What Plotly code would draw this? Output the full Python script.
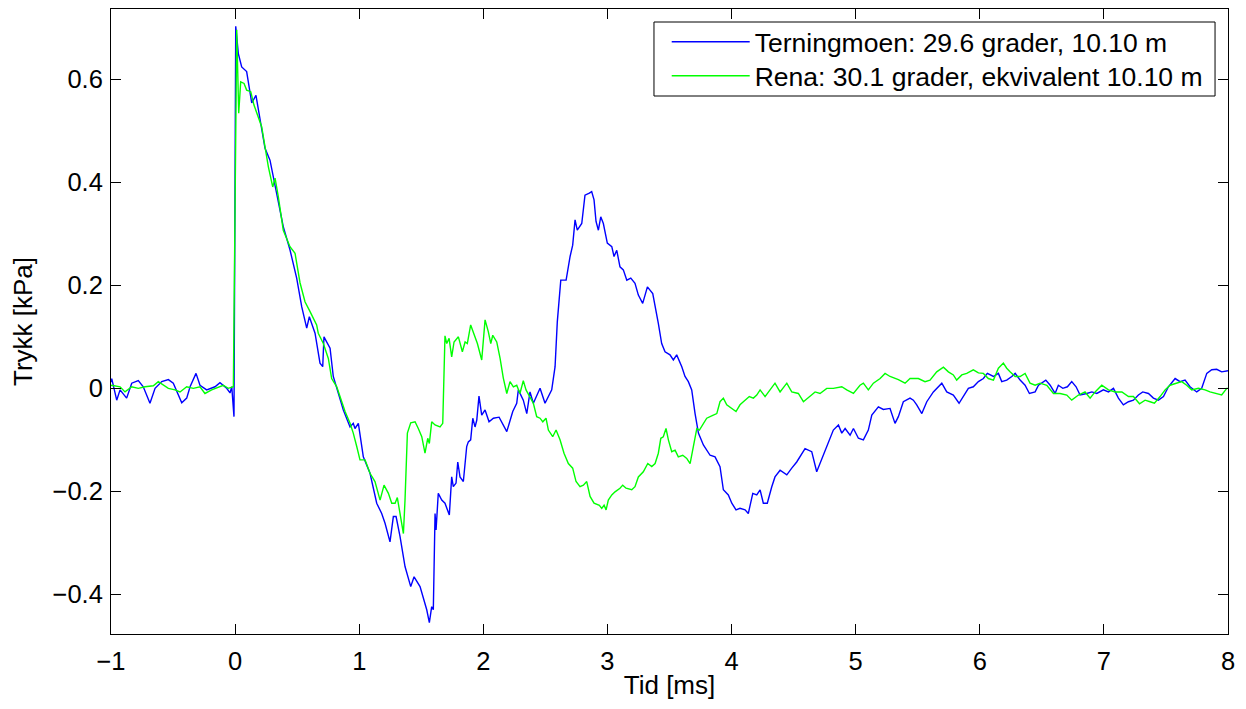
import plotly.graph_objects as go

# ---- Data (time in ms, pressure in kPa) ----
terningmoen_t = [
    -1.000, -0.994, -0.954, -0.927, -0.874, -0.833, -0.780, -0.740, -0.686, -0.645,
    -0.591, -0.538, -0.498, -0.430, -0.390, -0.363, -0.315, -0.283, -0.229, -0.162,
    -0.122, -0.068, -0.041, -0.027, -0.009, 0.005, 0.026, 0.053, 0.093, 0.134,
    0.168, 0.201, 0.241, 0.281, 0.335, 0.388, 0.442, 0.496, 0.537, 0.577,
    0.598, 0.644, 0.684, 0.706, 0.716, 0.765, 0.791, 0.832, 0.872, 0.926,
    0.952, 0.966, 0.993, 1.033, 1.087, 1.141, 1.181, 1.208, 1.248, 1.275,
    1.297, 1.329, 1.369, 1.415, 1.442, 1.490, 1.522, 1.544, 1.565, 1.584,
    1.597, 1.611, 1.619, 1.637, 1.665, 1.691, 1.726, 1.745, 1.758, 1.780,
    1.794, 1.812, 1.839, 1.866, 1.879, 1.898, 1.915, 1.933, 1.947, 1.965,
    1.987, 2.014, 2.046, 2.081, 2.127, 2.189, 2.237, 2.269, 2.282, 2.322,
    2.350, 2.376, 2.403, 2.457, 2.497, 2.551, 2.578, 2.596, 2.624, 2.667,
    2.699, 2.720, 2.739, 2.757, 2.793, 2.819, 2.854, 2.873, 2.892, 2.908,
    2.927, 2.946, 2.967, 2.999, 3.035, 3.053, 3.075, 3.101, 3.128, 3.156,
    3.188, 3.222, 3.249, 3.284, 3.322, 3.365, 3.410, 3.437, 3.464, 3.504,
    3.531, 3.558, 3.599, 3.625, 3.652, 3.679, 3.706, 3.733, 3.773, 3.827,
    3.867, 3.907, 3.934, 3.974, 4.002, 4.036, 4.068, 4.109, 4.135, 4.171,
    4.203, 4.230, 4.256, 4.288, 4.324, 4.350, 4.391, 4.445, 4.485, 4.525,
    4.592, 4.646, 4.686, 4.740, 4.788, 4.820, 4.861, 4.888, 4.915, 4.955,
    4.982, 5.022, 5.062, 5.102, 5.130, 5.183, 5.223, 5.277, 5.317, 5.344,
    5.384, 5.438, 5.465, 5.492, 5.533, 5.573, 5.626, 5.667, 5.694, 5.734,
    5.787, 5.833, 5.868, 5.908, 5.948, 5.989, 6.029, 6.061, 6.110, 6.150,
    6.177, 6.217, 6.258, 6.285, 6.325, 6.365, 6.400, 6.446, 6.473, 6.532,
    6.567, 6.607, 6.633, 6.669, 6.706, 6.741, 6.776, 6.808, 6.862, 6.903,
    6.943, 6.996, 7.037, 7.077, 7.117, 7.157, 7.198, 7.238, 7.278, 7.313,
    7.359, 7.399, 7.439, 7.480, 7.520, 7.574, 7.614, 7.654, 7.694, 7.748,
    7.788, 7.829, 7.869, 7.909, 7.949, 7.990, 8.000,
]
terningmoen_p = [
    0.012, 0.019, -0.023, -0.003, -0.019, 0.010, 0.015, 0.003, -0.029, 0.000,
    0.013, 0.017, 0.010, -0.028, -0.019, 0.003, 0.029, 0.006, -0.003, 0.003,
    0.011, 0.000, -0.009, 0.003, -0.055, 0.703, 0.650, 0.624, 0.615, 0.554,
    0.569, 0.521, 0.466, 0.443, 0.379, 0.314, 0.269, 0.214, 0.158, 0.117,
    0.139, 0.107, 0.049, 0.042, 0.100, 0.078, 0.023, -0.010, -0.042, -0.075,
    -0.068, -0.078, -0.068, -0.133, -0.165, -0.223, -0.243, -0.262, -0.298, -0.249,
    -0.249, -0.288, -0.346, -0.385, -0.366, -0.385, -0.411, -0.430, -0.455, -0.424,
    -0.430, -0.243, -0.275, -0.204, -0.217, -0.223, -0.246, -0.172, -0.191, -0.184,
    -0.143, -0.172, -0.181, -0.113, -0.104, -0.100, -0.058, -0.075, -0.062, -0.015,
    -0.052, -0.042, -0.065, -0.058, -0.056, -0.084, -0.045, -0.029, -0.003, -0.023,
    -0.049, -0.007, -0.029, 0.000, -0.029, -0.003, 0.042, 0.129, 0.210, 0.210,
    0.256, 0.278, 0.327, 0.307, 0.320, 0.375, 0.379, 0.382, 0.366, 0.324,
    0.307, 0.333, 0.320, 0.282, 0.275, 0.256, 0.268, 0.236, 0.230, 0.210,
    0.214, 0.204, 0.181, 0.165, 0.197, 0.184, 0.126, 0.087, 0.071, 0.065,
    0.055, 0.065, 0.042, 0.023, 0.013, -0.003, -0.049, -0.087, -0.110, -0.130,
    -0.133, -0.152, -0.197, -0.207, -0.223, -0.236, -0.233, -0.236, -0.243, -0.204,
    -0.207, -0.197, -0.223, -0.223, -0.191, -0.172, -0.159, -0.168, -0.155, -0.143,
    -0.117, -0.123, -0.162, -0.130, -0.100, -0.081, -0.071, -0.087, -0.078, -0.091,
    -0.078, -0.097, -0.100, -0.081, -0.052, -0.036, -0.041, -0.039, -0.068, -0.055,
    -0.026, -0.019, -0.023, -0.032, -0.049, -0.026, -0.007, 0.003, 0.010, -0.007,
    -0.013, -0.029, -0.016, 0.000, 0.003, 0.013, 0.019, 0.029, 0.023, 0.029,
    0.013, 0.016, 0.023, 0.029, 0.016, 0.006, -0.010, -0.007, 0.006, 0.016,
    0.006, -0.010, 0.006, 0.000, 0.003, 0.013, 0.003, -0.013, -0.010, -0.007,
    -0.010, -0.003, -0.007, 0.000, -0.019, -0.032, -0.026, -0.023, -0.013, -0.007,
    -0.010, -0.019, -0.023, -0.016, 0.003, 0.019, 0.013, 0.016, 0.003, -0.007,
    0.000, 0.029, 0.036, 0.037, 0.032, 0.034, 0.034,
]

rena_t = [
    -1.000, -0.994, -0.927, -0.887, -0.833, -0.780, -0.726, -0.659, -0.619, -0.579,
    -0.538, -0.484, -0.444, -0.390, -0.337, -0.283, -0.243, -0.189, -0.135, -0.095,
    -0.055, -0.014, 0.013, 0.029, 0.045, 0.072, 0.093, 0.126, 0.152, 0.179,
    0.214, 0.241, 0.268, 0.303, 0.322, 0.348, 0.388, 0.442, 0.483, 0.523,
    0.563, 0.604, 0.657, 0.670, 0.711, 0.751, 0.778, 0.819, 0.845, 0.886,
    0.926, 0.952, 0.980, 1.006, 1.047, 1.087, 1.127, 1.168, 1.200, 1.235,
    1.262, 1.289, 1.307, 1.329, 1.356, 1.369, 1.388, 1.415, 1.450, 1.476,
    1.504, 1.530, 1.552, 1.565, 1.584, 1.611, 1.651, 1.673, 1.683, 1.691,
    1.705, 1.724, 1.745, 1.764, 1.799, 1.831, 1.853, 1.871, 1.898, 1.920,
    1.952, 1.987, 2.014, 2.040, 2.060, 2.076, 2.108, 2.135, 2.161, 2.189,
    2.215, 2.242, 2.269, 2.295, 2.322, 2.344, 2.376, 2.403, 2.430, 2.457,
    2.479, 2.505, 2.524, 2.559, 2.586, 2.618, 2.650, 2.685, 2.720, 2.747,
    2.779, 2.806, 2.833, 2.860, 2.892, 2.935, 2.954, 2.973, 2.989, 3.007,
    3.035, 3.061, 3.101, 3.123, 3.150, 3.196, 3.222, 3.249, 3.289, 3.325,
    3.357, 3.384, 3.410, 3.430, 3.450, 3.472, 3.491, 3.518, 3.545, 3.571,
    3.607, 3.639, 3.666, 3.692, 3.720, 3.741, 3.768, 3.800, 3.853, 3.881,
    3.907, 3.934, 3.961, 4.002, 4.036, 4.068, 4.109, 4.143, 4.176, 4.203,
    4.230, 4.270, 4.310, 4.350, 4.391, 4.445, 4.485, 4.538, 4.579, 4.633,
    4.673, 4.713, 4.767, 4.820, 4.888, 4.928, 4.982, 5.035, 5.062, 5.102,
    5.143, 5.197, 5.237, 5.277, 5.344, 5.398, 5.438, 5.505, 5.559, 5.599,
    5.653, 5.707, 5.747, 5.787, 5.814, 5.855, 5.895, 5.948, 5.989, 6.029,
    6.069, 6.110, 6.150, 6.190, 6.217, 6.244, 6.285, 6.325, 6.365, 6.405,
    6.446, 6.486, 6.540, 6.594, 6.647, 6.701, 6.741, 6.795, 6.848, 6.889,
    6.929, 6.983, 7.037, 7.091, 7.145, 7.198, 7.238, 7.287, 7.332, 7.372,
    7.407, 7.453, 7.493, 7.533, 7.587, 7.627, 7.667, 7.708, 7.761, 7.815,
    7.855, 7.909, 7.949, 7.990, 8.000,
]
rena_p = [
    0.005, 0.006, 0.003, -0.007, 0.003, 0.000, 0.003, 0.005, 0.013, 0.006,
    0.000, -0.003, -0.007, 0.003, 0.000, 0.003, -0.010, -0.003, 0.003, 0.006,
    0.000, 0.003, 0.696, 0.534, 0.595, 0.592, 0.579, 0.576, 0.550, 0.531,
    0.508, 0.469, 0.430, 0.391, 0.408, 0.372, 0.307, 0.275, 0.262, 0.205,
    0.168, 0.149, 0.123, 0.107, 0.087, 0.058, 0.019, 0.003, -0.016, -0.045,
    -0.068, -0.087, -0.113, -0.139, -0.139, -0.165, -0.181, -0.217, -0.188, -0.204,
    -0.223, -0.223, -0.212, -0.243, -0.282, -0.217, -0.087, -0.067, -0.065, -0.078,
    -0.094, -0.126, -0.097, -0.107, -0.065, -0.071, -0.075, -0.068, 0.055, 0.102,
    0.087, 0.097, 0.061, 0.090, 0.100, 0.071, 0.090, 0.087, 0.123, 0.107,
    0.087, 0.055, 0.133, 0.110, 0.087, 0.103, 0.090, 0.058, 0.020, -0.010,
    0.013, 0.003, 0.006, -0.010, 0.015, -0.003, -0.016, -0.029, -0.055, -0.058,
    -0.065, -0.058, -0.081, -0.094, -0.081, -0.100, -0.126, -0.146, -0.155, -0.181,
    -0.191, -0.188, -0.181, -0.210, -0.223, -0.227, -0.233, -0.227, -0.236, -0.217,
    -0.207, -0.201, -0.194, -0.188, -0.194, -0.197, -0.191, -0.172, -0.162, -0.146,
    -0.152, -0.146, -0.126, -0.097, -0.094, -0.078, -0.100, -0.123, -0.120, -0.133,
    -0.130, -0.136, -0.146, -0.113, -0.078, -0.081, -0.071, -0.058, -0.052, -0.049,
    -0.026, -0.019, -0.032, -0.039, -0.045, -0.032, -0.023, -0.016, -0.019, -0.013,
    -0.003, -0.016, -0.003, 0.010, -0.007, 0.010, -0.007, -0.010, -0.026, -0.016,
    -0.007, -0.010, 0.000, 0.000, 0.003, -0.003, -0.010, 0.006, 0.010, -0.003,
    0.010, 0.019, 0.029, 0.023, 0.017, 0.010, 0.019, 0.019, 0.013, 0.016,
    0.032, 0.041, 0.032, 0.026, 0.016, 0.026, 0.029, 0.036, 0.030, 0.029,
    0.019, 0.016, 0.039, 0.049, 0.039, 0.032, 0.023, 0.023, 0.029, 0.010,
    0.006, 0.010, 0.006, -0.010, -0.010, -0.013, -0.023, -0.013, -0.007, -0.019,
    -0.007, 0.006, -0.003, -0.007, -0.007, -0.016, -0.016, -0.030, -0.023, -0.026,
    -0.029, -0.016, -0.003, 0.006, 0.010, 0.013, 0.006, -0.003, 0.000, -0.003,
    -0.007, -0.010, -0.013, 0.000, 0.000,
]

series_names = [
    "Terningmoen: 29.6 grader, 10.10 m",
    "Rena: 30.1 grader, ekvivalent 10.10 m",
]
series_colors = ["#0000FF", "#00FF00"]

x_ticks = [-1, 0, 1, 2, 3, 4, 5, 6, 7, 8]
x_ticklabels = ["\u22121", "0", "1", "2", "3", "4", "5", "6", "7", "8"]
y_ticks = [-0.4, -0.2, 0, 0.2, 0.4, 0.6]
y_ticklabels = ["\u22120.4", "\u22120.2", "0", "0.2", "0.4", "0.6"]

FONT = "Liberation Sans, Arial, Helvetica, sans-serif"

fig = go.Figure()
fig.add_trace(go.Scatter(x=terningmoen_t, y=terningmoen_p, mode="lines",
                         name=series_names[0], legend="legend",
                         line=dict(color=series_colors[0], width=1.4)))
fig.add_trace(go.Scatter(x=rena_t, y=rena_p, mode="lines",
                         name=series_names[1], legend="legend2",
                         line=dict(color=series_colors[1], width=1.4)))

axis_common = dict(
    showline=True, linecolor="black", linewidth=1, mirror="ticks",
    ticks="inside", ticklen=10, tickwidth=1, tickcolor="black",
    showgrid=False, zeroline=False,
    tickfont=dict(family=FONT, size=25.5, color="black"),
)

legend_common = dict(
    xanchor="left", yanchor="middle", bgcolor="rgba(0,0,0,0)",
    borderwidth=0, font=dict(family=FONT, size=26.5, color="black"),
    itemwidth=78,
)

# Legend frame (paper coordinates)
fig.add_shape(type="rect", xref="paper", yref="paper",
              x0=0.4861, x1=0.9884, y0=0.8608, y1=0.9792,
              line=dict(color="black", width=1), fillcolor="white", layer="above")

# The page body adds an 8 px offset; size and margins compensate for it.
fig.update_layout(
    width=1238, height=701,
    margin=dict(l=103, r=18, t=1, b=75, autoexpand=False),
    paper_bgcolor="white", plot_bgcolor="white",
    font=dict(family=FONT, size=26, color="black"),
    xaxis=dict(range=[-1, 8], tickvals=x_ticks, ticktext=x_ticklabels,
               title=dict(text="Tid [ms]", font=dict(family=FONT, size=26), standoff=2),
               ticklabelstandoff=4, automargin=False, **axis_common),
    yaxis=dict(range=[-0.477, 0.7365], tickvals=y_ticks, ticktext=y_ticklabels,
               title=dict(text="Trykk [kPa]", font=dict(family=FONT, size=26), standoff=12),
               ticklabelstandoff=2, automargin=False, **axis_common),
    legend=dict(x=0.4975, y=0.9472, **legend_common),
    legend2=dict(x=0.4975, y=0.8928, **legend_common),
    showlegend=True,
)

fig.write_html("out.html")
